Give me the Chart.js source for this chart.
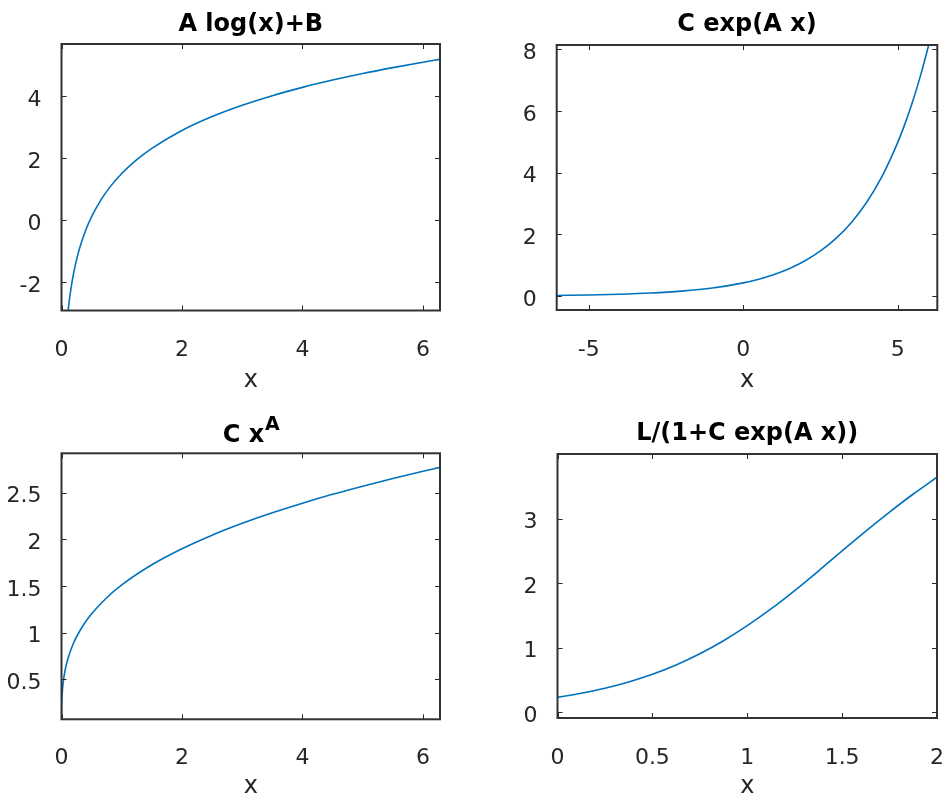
<!DOCTYPE html>
<html>
<head>
<meta charset="utf-8">
<script src="https://cdn.jsdelivr.net/npm/chart.js@4.4.1/dist/chart.umd.min.js"></script>
<style>
  html, body { margin: 0; padding: 0; background: #fff; }
  #wrap { position: relative; width: 947px; height: 804px; overflow: hidden; }
  .cell { position: absolute; }
</style>
</head>
<body>
<div id="wrap">
  <div class="cell" style="left:0;top:0;width:473px;height:400px"><canvas id="c1"></canvas></div>
  <div class="cell" style="left:473px;top:0;width:474px;height:400px"><canvas id="c2"></canvas></div>
  <div class="cell" style="left:0;top:400px;width:473px;height:404px"><canvas id="c3"></canvas></div>
  <div class="cell" style="left:473px;top:400px;width:474px;height:404px"><canvas id="c4"></canvas></div>
</div>
<script>
// A log(x)+B
const logX = [0.11, 0.13, 0.16, 0.2, 0.25, 0.3, 0.4, 0.5, 0.65, 0.8, 1, 1.25, 1.5, 2, 2.5, 3, 3.5, 4, 4.5, 5, 5.5, 6, 6.28];
const logY = [-2.915, -2.58, -2.165, -1.719, -1.273, -0.908, -0.333, 0.114, 0.638, 1.054, 1.5, 1.946, 2.311, 2.886, 3.333, 3.697, 4.006, 4.273, 4.508, 4.719, 4.909, 5.084, 5.175];
const logXTicks = [0, 2, 4, 6];
const logYTicks = [-2, 0, 2, 4];

// C exp(A x)
const expX = [-6.04, -5, -4, -3, -2, -1, 0, 0.5, 1, 1.5, 2, 2.5, 3, 3.5, 4, 4.5, 5, 5.25, 5.5, 5.75, 6.0];
const expY = [0.0223, 0.0371, 0.0606, 0.0989, 0.1614, 0.2634, 0.43, 0.5494, 0.7019, 0.8968, 1.1457, 1.4638, 1.8702, 2.3893, 3.0527, 3.9002, 4.983, 5.632, 6.366, 7.196, 8.134];
const expXTicks = [-5, 0, 5];
const expYTicks = [0, 2, 4, 6, 8];

// C x^A
const powX = [0, 0.002, 0.01, 0.03, 0.06, 0.1, 0.2, 0.35, 0.5, 0.75, 1, 1.5, 2, 2.5, 3, 3.5, 4, 4.5, 5, 5.5, 6, 6.28];
const powY = [0.071, 0.194, 0.33, 0.475, 0.597, 0.706, 0.888, 1.068, 1.201, 1.373, 1.51, 1.726, 1.898, 2.043, 2.17, 2.283, 2.386, 2.481, 2.568, 2.65, 2.728, 2.769];
const powXTicks = [0, 2, 4, 6];
const powYTicks = [0.5, 1, 1.5, 2, 2.5];

// L/(1+C exp(A x))
const logiX = [0, 0.125, 0.25, 0.375, 0.5, 0.625, 0.75, 0.875, 1, 1.125, 1.25, 1.375, 1.5, 1.625, 1.75, 1.875, 2];
const logiY = [0.23, 0.293, 0.371, 0.468, 0.587, 0.732, 0.905, 1.107, 1.34, 1.6, 1.885, 2.187, 2.5, 2.806, 3.1, 3.38, 3.64];
const logiXTicks = [0, 0.5, 1, 1.5, 2];
const logiYTicks = [0, 1, 2, 3];

const FONT = "'DejaVu Sans', sans-serif";
const TXT = "#262626";
Chart.defaults.font.family = FONT;

// matlab style box with inward ticks on all four sides
const boxPlugin = {
  id: "matlabBox",
  afterDatasetsDraw(chart) {
    const { ctx, chartArea: a, scales } = chart;
    const x = scales.x, y = scales.y;
    ctx.save();
    ctx.strokeStyle = TXT;
    ctx.lineWidth = 1;
    ctx.beginPath();
    x.ticks.forEach((t) => {
      const px = Math.round(x.getPixelForValue(t.value)) + 0.5;
      ctx.moveTo(px, a.bottom); ctx.lineTo(px, a.bottom - 5);
      ctx.moveTo(px, a.top); ctx.lineTo(px, a.top + 5);
    });
    y.ticks.forEach((t) => {
      const py = Math.round(y.getPixelForValue(t.value)) + 0.5;
      ctx.moveTo(a.left, py); ctx.lineTo(a.left + 5, py);
      ctx.moveTo(a.right, py); ctx.lineTo(a.right - 5, py);
    });
    ctx.stroke();
    ctx.strokeStyle = "#333";
    ctx.lineWidth = 2;
    ctx.strokeRect(a.left, a.top, a.right - a.left, a.bottom - a.top);
    ctx.restore();
  },
};

// title with a superscript part (C x^A)
const supTitlePlugin = {
  id: "supTitle",
  afterDraw(chart, args, opts) {
    if (!opts || !opts.base) return;
    const { ctx, chartArea: a } = chart;
    ctx.save();
    ctx.fillStyle = "#000";
    ctx.textBaseline = "alphabetic";
    const fBase = "bold 24px " + FONT;
    const fSup = "bold 19px " + FONT;
    ctx.font = fBase;
    const w1 = ctx.measureText(opts.base).width;
    ctx.font = fSup;
    const w2 = ctx.measureText(opts.sup).width;
    const x0 = (a.left + a.right) / 2 - (w1 + w2) / 2;
    ctx.font = fBase;
    ctx.fillText(opts.base, x0, opts.baseline);
    ctx.font = fSup;
    ctx.fillText(opts.sup, x0 + w1 + 1, opts.baseline - 12);
    ctx.restore();
  },
};

function makeChart(id, o) {
  const [L, T, R, B] = o.area;
  return new Chart(document.getElementById(id), {
    type: "line",
    data: {
      datasets: [
        {
          data: o.xs.map((x, i) => ({ x: x, y: o.ys[i] })),
          borderColor: "#0072BD",
          borderWidth: 1.6,
          pointRadius: 0,
          cubicInterpolationMode: "monotone",
          fill: false,
        },
      ],
    },
    options: {
      responsive: true,
      maintainAspectRatio: false,
      animation: false,
      events: [],
      layout: { padding: { left: 0, right: o.W - R, top: o.title ? 0 : T, bottom: 0 } },
      plugins: {
        legend: { display: false },
        tooltip: { enabled: false },
        title: o.title
          ? {
              display: true,
              text: o.title,
              fullSize: false,
              color: "#000",
              font: { family: FONT, size: 24, weight: "bold", lineHeight: 1.2 },
              padding: { top: o.titleTop, bottom: T - o.titleTop - 28.8 },
            }
          : { display: false },
        supTitle: o.sup || {},
      },
      scales: {
        x: {
          type: "linear",
          min: o.xMin,
          max: o.xMax,
          afterBuildTicks: (s) => { s.ticks = o.xTicks.map((v) => ({ value: v })); },
          afterFit: (s) => { s.height = o.H - B; s.paddingLeft = 0; s.paddingRight = 0; },
          grid: { display: false },
          border: { display: false },
          ticks: {
            color: TXT,
            font: { size: 22 },
            padding: o.xPad,
            maxRotation: 0,
            autoSkip: false,
            callback: (v) => String(v),
          },
          title: {
            display: true,
            text: "x",
            color: TXT,
            font: { size: 24 },
            padding: { top: 0, bottom: o.titlePad },
          },
        },
        y: {
          type: "linear",
          min: o.yMin,
          max: o.yMax,
          afterBuildTicks: (s) => { s.ticks = o.yTicks.map((v) => ({ value: v })); },
          afterFit: (s) => { s.width = L; s.paddingTop = 0; s.paddingBottom = 0; },
          grid: { display: false },
          border: { display: false },
          ticks: {
            color: TXT,
            font: { size: 22 },
            padding: 12,
            labelOffset: 4,
            autoSkip: false,
            callback: (v) => String(v),
          },
        },
      },
    },
    plugins: [boxPlugin, supTitlePlugin],
  });
}

makeChart("c1", {
  W: 473, H: 400, area: [61.5, 44, 440, 310.5],
  title: "A log(x)+B", titleTop: 10.6,
  xs: logX, ys: logY, xTicks: logXTicks, yTicks: logYTicks,
  xMin: 0, xMax: 6.283, yMin: -2.91, yMax: 5.67,
  xPad: 19, titlePad: 5,
});

makeChart("c2", {
  W: 474, H: 400, area: [83.7, 45, 464.3, 310],
  title: "C exp(A x)", titleTop: 10.6,
  xs: expX, ys: expY, xTicks: expXTicks, yTicks: expYTicks,
  xMin: -6.04, xMax: 6.28, yMin: -0.45, yMax: 8.14,
  xPad: 19.5, titlePad: 5,
});

makeChart("c3", {
  W: 473, H: 404, area: [61.5, 53.3, 440, 319.3],
  sup: { base: "C x", sup: "A", baseline: 42 },
  xs: powX, ys: powY, xTicks: powXTicks, yTicks: powYTicks,
  xMin: 0, xMax: 6.283, yMin: 0.071, yMax: 2.92,
  xPad: 17.5, titlePad: 2.6,
});

makeChart("c4", {
  W: 474, H: 404, area: [84.5, 54, 464, 318],
  title: "L/(1+C exp(A x))", titleTop: 18.9,
  xs: logiX, ys: logiY, xTicks: logiXTicks, yTicks: logiYTicks,
  xMin: 0, xMax: 2, yMin: -0.09, yMax: 4.0,
  xPad: 18.8, titlePad: 2.6,
});
</script>
</body>
</html>
